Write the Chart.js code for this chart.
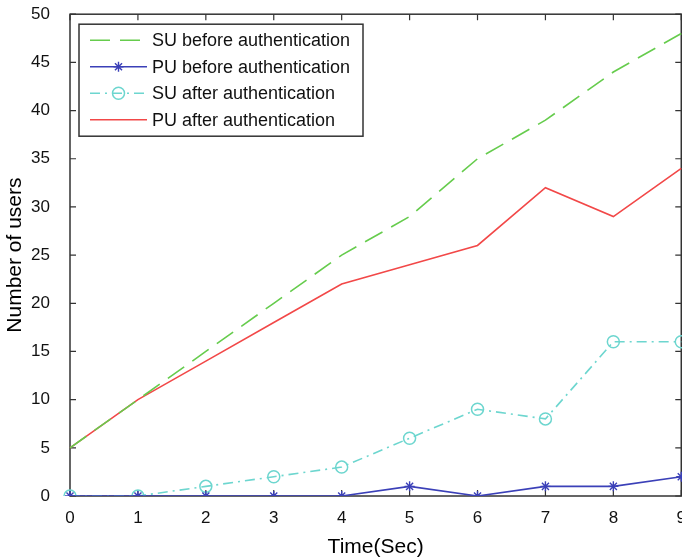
<!DOCTYPE html>
<html>
<head>
<meta charset="utf-8">
<script src="https://cdn.jsdelivr.net/npm/chart.js@4/dist/chart.umd.min.js"></script>
<style>
  html, body { margin: 0; padding: 0; background: #fff; overflow: hidden; }
  #wrap { position: relative; width: 690px; height: 568px; margin-top: -8px; }
</style>
</head>
<body>
<div id="wrap"><canvas id="grafico"></canvas></div>
<script>
// datos
const tiempos = ['0', '1', '2', '3', '4', '5', '6', '7', '8', '9'];
const suAntes = [5, 10, 15, 20, 25, 29, 35, 39, 44, 48];
const puAntes = [0, 0, 0, 0, 0, 1, 0, 1, 1, 2];
const suDespues = [0, 0, 1, 2, 3, 6, 9, 8, 16, 16];
const puDespues = [5, 10, 14, 18, 22, 24, 26, 32, 29, 34];
const etiquetasY = [0, 5, 10, 15, 20, 25, 30, 35, 40, 45, 50];

const fuente = 'Arial, "Liberation Sans", sans-serif';

// marcas hacia dentro y caja estilo matlab
const marcasDentro = {
  id: 'marcasDentro',
  beforeDatasetsDraw(chart) {
    const { ctx, chartArea: a, scales } = chart;
    ctx.save();
    ctx.strokeStyle = '#333';
    ctx.lineWidth = 1.2;
    ctx.beginPath();
    tiempos.forEach((t, i) => {
      const x = scales.x.getPixelForValue(i);
      ctx.moveTo(x, a.bottom); ctx.lineTo(x, a.bottom - 6);
      ctx.moveTo(x, a.top); ctx.lineTo(x, a.top + 6);
    });
    etiquetasY.forEach(v => {
      const y = scales.y.getPixelForValue(v);
      ctx.moveTo(a.left, y); ctx.lineTo(a.left + 6, y);
      ctx.moveTo(a.right, y); ctx.lineTo(a.right - 6, y);
    });
    ctx.stroke();
    ctx.lineWidth = 1.5;
    ctx.strokeRect(a.left, a.top, a.right - a.left, a.bottom - a.top);
    ctx.restore();
  }
};

// leyenda con caja
const leyendaCaja = {
  id: 'leyendaCaja',
  afterDraw(chart) {
    const { ctx, chartArea: a } = chart;
    const x0 = a.left + 9, y0 = a.top + 10, w = 284, h = 112;
    ctx.save();
    ctx.fillStyle = '#fff';
    ctx.fillRect(x0, y0, w, h);
    ctx.strokeStyle = '#333';
    ctx.lineWidth = 1.5;
    ctx.strokeRect(x0, y0, w, h);
    ctx.font = '18px ' + fuente;
    ctx.textBaseline = 'middle';
    chart.data.datasets.forEach((ds, i) => {
      const y = y0 + 16 + i * 26.5;
      const xa = x0 + 11, xb = x0 + 68;
      ctx.strokeStyle = ds.borderColor;
      ctx.lineWidth = ds.borderWidth;
      ctx.setLineDash(ds.borderDash || []);
      ctx.beginPath();
      ctx.moveTo(xa, y); ctx.lineTo(xb, y);
      ctx.stroke();
      ctx.setLineDash([]);
      if (ds.pointRadius > 0) {
        ctx.fillStyle = ds.pointBackgroundColor;
        ctx.strokeStyle = ds.borderColor;
        ctx.lineWidth = ds.pointBorderWidth;
        Chart.helpers.drawPoint(ctx, {
          pointStyle: ds.pointStyle,
          radius: ds.pointRadius,
          borderWidth: ds.pointBorderWidth
        }, (xa + xb) / 2, y);
      }
      ctx.fillStyle = '#111';
      ctx.fillText(ds.label, xb + 5, y + 1);
    });
    ctx.restore();
  }
};

new Chart(document.getElementById('grafico').getContext('2d'), {
  type: 'line',
  data: {
    labels: tiempos,
    datasets: [
      {
        label: 'SU before authentication',
        data: suAntes,
        borderColor: '#66cc4d',
        borderWidth: 1.6,
        borderDash: [20, 10],
        pointRadius: 0
      },
      {
        label: 'PU before authentication',
        data: puAntes,
        borderColor: '#3b40b8',
        backgroundColor: '#3b40b8',
        borderWidth: 1.6,
        pointStyle: 'star',
        pointRadius: 5,
        pointBorderWidth: 1.4,
        pointBackgroundColor: '#3b40b8'
      },
      {
        label: 'SU after authentication',
        data: suDespues,
        borderColor: '#6dd6cf',
        borderWidth: 1.6,
        borderDash: [10, 5, 2, 5],
        pointStyle: 'circle',
        pointRadius: 6,
        pointBorderWidth: 1.5,
        pointBackgroundColor: 'rgba(255,255,255,0)'
      },
      {
        label: 'PU after authentication',
        data: puDespues,
        borderColor: '#f24848',
        borderWidth: 1.6,
        pointRadius: 0
      }
    ]
  },
  options: {
    responsive: true,
    maintainAspectRatio: false,
    animation: false,
    layout: { padding: { top: 1, left: 0, right: 0, bottom: 0 } },
    plugins: {
      legend: { display: false },
      tooltip: { enabled: false }
    },
    scales: {
      x: {
        offset: false,
        grid: { display: false },
        border: { display: false },
        afterFit(s) { s.height = 64; },
        ticks: { color: '#111', font: { family: fuente, size: 17 }, padding: 4, maxRotation: 0 },
        title: { display: true, text: 'Time(Sec)', color: '#000', font: { family: fuente, size: 21 }, padding: { top: 0, bottom: 0 } }
      },
      y: {
        min: 0,
        max: 50,
        grid: { display: false },
        border: { display: false },
        afterFit(s) { s.width = 70; },
        ticks: { stepSize: 5, color: '#111', font: { family: fuente, size: 17 }, padding: 12 },
        title: { display: true, text: 'Number of users', color: '#000', font: { family: fuente, size: 21 }, padding: { top: 3, bottom: 0 } }
      }
    }
  },
  plugins: [marcasDentro, leyendaCaja]
});
</script>
</body>
</html>
